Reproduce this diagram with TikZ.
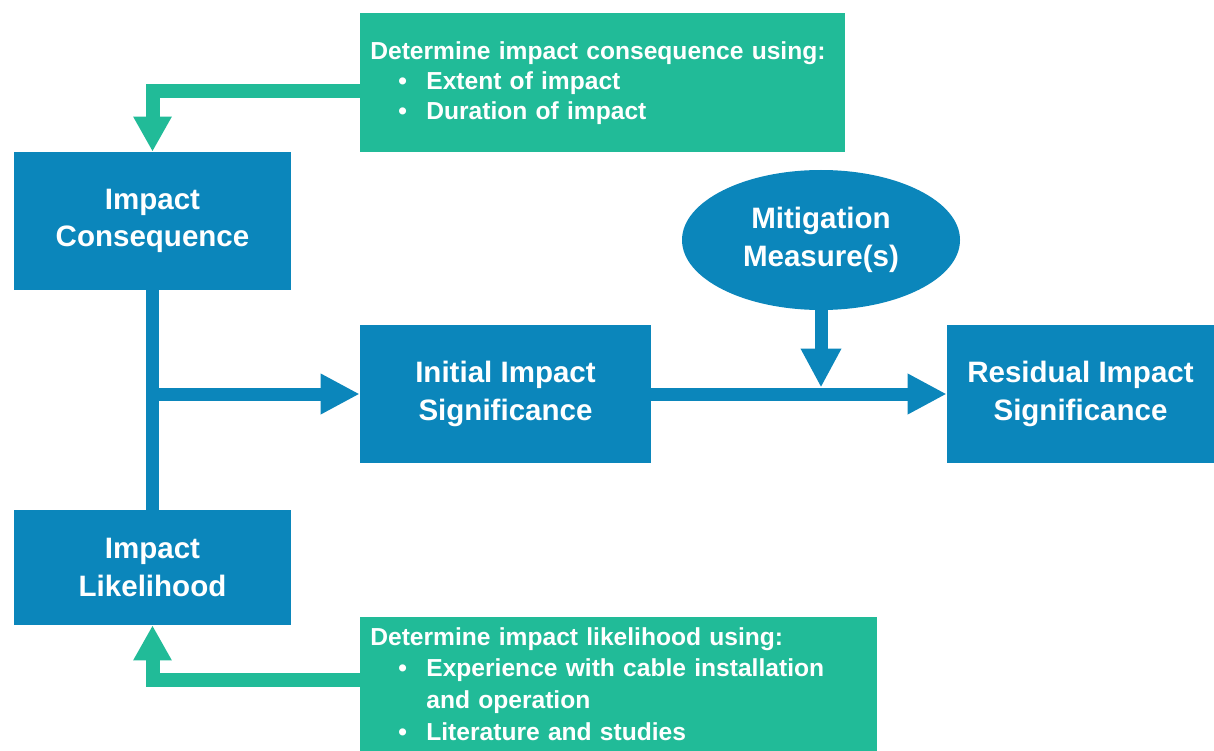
\documentclass[tikz,border=0pt]{standalone}
\usepackage{fontspec}
\setmainfont{Liberation Sans}
\usetikzlibrary{shapes.geometric,arrows.meta}

\definecolor{stepblue}{RGB}{11,134,187}
\definecolor{notegreen}{RGB}{33,187,152}

% one bullet line of a note
\newcommand{\noteitem}[1]{\\\hspace*{0.56cm}\makebox[0.56cm][l]{\textbullet}#1}

\begin{document}
\begin{tikzpicture}[
        stepbox/.style={fill=stepblue,text=white,align=center,inner sep=0pt,
          font=\bfseries\fontsize{16.8pt}{21.5pt}\selectfont},
        notebox/.style={fill=notegreen,text=white,align=left,inner xsep=0.2cm,
          inner ysep=0.2cm,font=\bfseries\fontsize{14pt}{17pt}\selectfont},
        flow/.style={stepblue,line width=0.26cm,-{Triangle[width=0.76cm,length=0.78cm]}},
        noteflow/.style={notegreen,line width=0.28cm,-{Triangle[width=0.72cm,length=0.7cm]}}
      ]
        \useasboundingbox (0,0) rectangle (24.28,15) ;
        %\draw[very thin,gray,step=1] (0,0) grid (24,15) ;

        % main steps
        \node[stepbox,minimum width=5.54cm,minimum height=2.76cm] (cons) at (3.05,10.58)
        {Impact\\Consequence} ;
        \node[stepbox,minimum width=5.54cm,minimum height=2.3cm] (like) at (3.05,3.65)
        {Impact\\Likelihood} ;
        \node[stepbox,minimum width=5.82cm,minimum height=2.76cm] (init) at (10.11,7.12)
        {Initial Impact\\Significance} ;
        \node[stepbox,minimum width=5.34cm,minimum height=2.76cm] (res) at (21.61,7.12)
        {Residual Impact\\Significance} ;
        \node[stepbox,ellipse,minimum width=5.56cm,minimum height=2.8cm] (mit) at (16.42,10.2)
        {Mitigation\\Measure(s)} ;

        % notes
        \node[notebox,anchor=north west,text width=9.3cm,minimum height=2.78cm] (topnote)
        at (7.2,14.74) {Determine impact consequence using:%
          \noteitem{Extent of impact}\noteitem{Duration of impact}} ;
        \node[notebox,anchor=north west,text width=9.94cm,text depth=2.3cm,
          font=\bfseries\fontsize{14pt}{18pt}\selectfont] (botnote)
        at (7.2,2.66) {Determine impact likelihood using:%
          \noteitem{Experience with cable installation}\\\hspace*{1.12cm}and operation%
          \noteitem{Literature and studies}} ;

        % connectors
        \draw[stepblue,line width=0.26cm] (cons.south) -- (like.north) ;
        \coordinate (join) at (cons.south |- init.west) ;
        \draw[flow] (join) -- (init.west) ;
        \draw[flow] (init.east) -- (res.west) ;
        \draw[flow,shorten >=0.13cm] (mit.south) -- (mit.south |- init.east) ;
        \draw[noteflow] ([yshift=-0.16cm]topnote.west) -| (cons.north) ;
        \draw[noteflow] ([yshift=-1.26cm]botnote.north west) -| (like.south) ;
      \end{tikzpicture}
\end{document}
